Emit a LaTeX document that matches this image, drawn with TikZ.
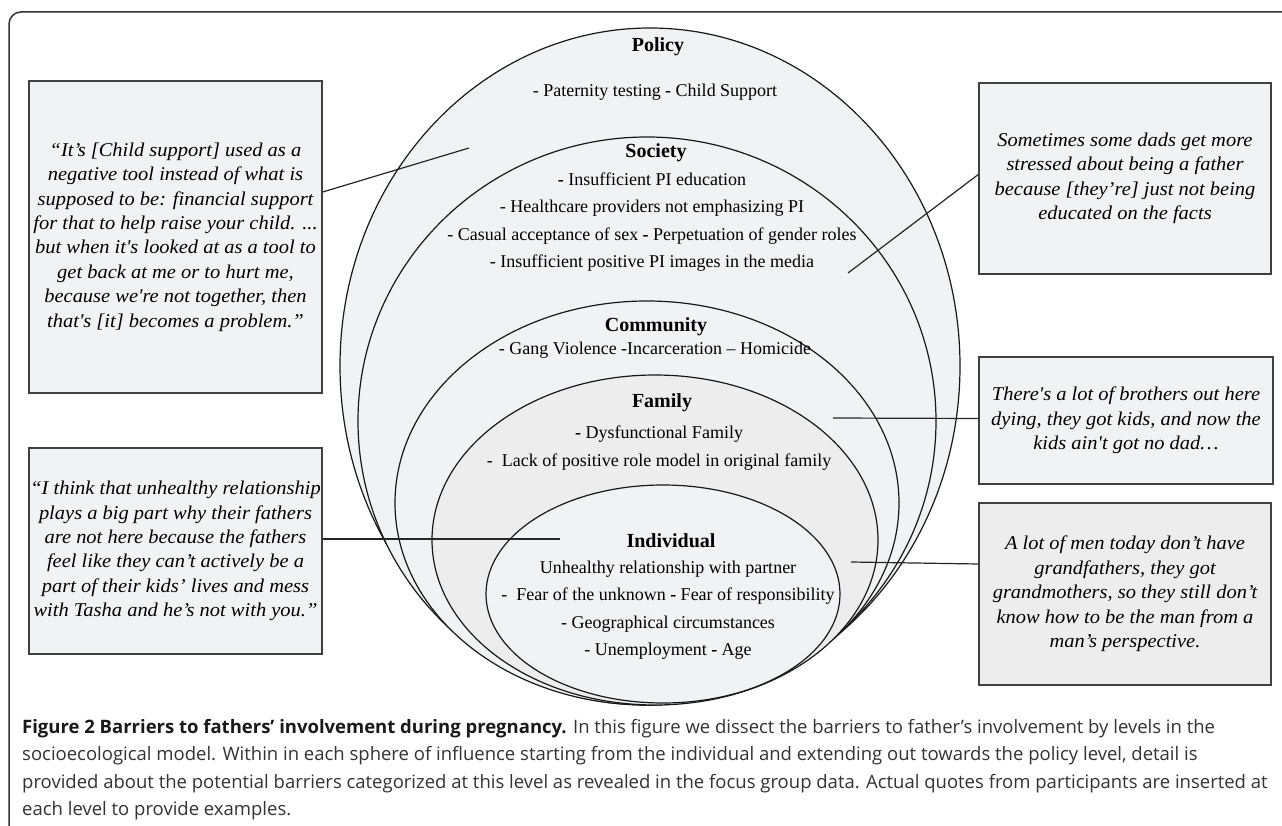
\documentclass[tikz,border=0pt]{standalone}
\usepackage{fontspec}
\setmainfont{Liberation Serif}
\newfontfamily\quotefont[FakeStretch=1.05]{Liberation Serif}
\newfontfamily\capfont{Open Sans}

\definecolor{paleblue}{HTML}{F1F2F4}
\definecolor{palegray}{HTML}{EDEDED}

\tikzset{
  quotebox/.style={draw=black!75, line width=1.4pt, fill=paleblue, inner sep=0pt,
    align=center, font=\quotefont\fontsize{19.5}{24.4}\selectfont\itshape},
  sphere/.style={draw=black!90, line width=1.2pt, fill=paleblue},
  lvtitle/.style={font=\fontsize{20}{24}\selectfont\bfseries},
  lvtext/.style={align=center, inner sep=0pt, font=\fontsize{18}{27.5}\selectfont},
  link/.style={draw=black!85, line width=1.2pt},
}

\begin{document}
\begin{tikzpicture}[x=1pt,y=-1pt]
    \useasboundingbox (0,0) rectangle (1282,826);
    \path[fill=white] (0,0) rectangle (1282,826);

    % Frame: only top and left edges are in view
    \draw[black!80, line width=1.5pt, rounded corners=12pt] (1282,12) -- (9,12) -- (9,826);

    % Spheres of influence, outermost first
    \path[sphere] (650,366) ellipse [x radius=310pt, y radius=338pt];  % Policy
    \path[sphere] (647,421) ellipse [x radius=289pt, y radius=284pt];  % Society
    \path[sphere] (647,503) ellipse [x radius=252pt, y radius=202pt];  % Community
    \path[sphere, fill=palegray] (655,540) ellipse [x radius=223pt, y radius=165pt];  % Family
    \path[sphere] (663,594) ellipse [x radius=177pt, y radius=109pt];  % Individual

    % Level names and barriers
    \node[lvtitle] (poltitle) at (658,47) {Policy};
    \node[lvtext] (politems) at (655,92) {- Paternity testing \textbf{-} Child Support};

    \node[lvtitle] (soctitle) at (656,153) {Society};
    \node[lvtext] (socitems) at (652,222) {\textbf{-} Insufficient PI education\\
      - Healthcare providers not emphasizing PI\\
      - Casual acceptance of sex \textbf{-} Perpetuation of gender roles\\
      - Insufficient positive PI images in the media};

    \node[lvtitle] (comtitle) at (656,327) {Community};
    \node[lvtext] (comitems) at (655,350) {- Gang Violence -Incarceration -- Homicide};

    \node[lvtitle] (famtitle) at (662,403) {Family};
    \node[lvtext] (famitems) at (659,448) {\textbf{-} Dysfunctional Family\\
      -~ Lack of positive role model in original family};

    \node[lvtitle] (indtitle) at (671,541) {Individual};
    \node[lvtext] (inditems) at (668,610) {Unhealthy relationship with partner\\
      -~ Fear of the unknown \textbf{-} Fear of responsibility\\
      - Geographical circumstances\\
      - Unemployment \textbf{-} Age};

    % Quotes from the focus groups
    \node[quotebox, minimum width=293pt, minimum height=312pt] (qpolicy) at (175.5,237)
      {“It’s [Child support] used as a\\ negative tool instead of what is\\
       supposed to be: financial support\\ for that to help raise your child. ...\\
       but when it's looked at as a tool to\\ get back at me or to hurt me,\\
       because we're not together, then\\ that's [it] becomes a problem.”};
    \node[quotebox, minimum width=292pt, minimum height=191pt] (qsociety) at (1125,178.5)
      {Sometimes some dads get more\\ stressed about being a father\\
       because [they’re] just not being\\ educated on the facts};
    \node[quotebox, minimum width=294pt, minimum height=127pt] (qfamily) at (1126,420.5)
      {There's a lot of brothers out here\\ dying, they got kids, and now the\\
       kids ain't got no dad…};
    \node[quotebox, minimum width=293pt, minimum height=206pt] (qindiv) at (175.5,551)
      {“I think that unhealthy relationship\\ plays a big part why their fathers\\
       are not here because the fathers\\ feel like they can’t actively be a\\
       part of their kids’ lives and mess\\ with Tasha and he’s not with you.”};
    \node[quotebox, fill=palegray, minimum width=292pt, minimum height=182pt] (qmen) at (1125,594)
      {A lot of men today don’t have\\ grandfathers, they got\\
       grandmothers, so they still don’t\\ know how to be the man from a\\
       man’s perspective.};

    % Connectors: free ends sit inside the spheres
    \coordinate (polend) at (469,148);
    \coordinate (socend) at (848,273);
    \coordinate (famend) at (833,418);
    \coordinate (indend) at (560,539);
    \coordinate (menend) at (851,562);
    \draw[link] ([yshift=45pt]qpolicy.east) -- (polend);
    \draw[link] ([yshift=4pt]qsociety.west) -- (socend);
    \draw[link] ([yshift=2pt]qfamily.west) -- (famend);
    \draw[link] ([yshift=12pt]qindiv.east) -- (indend);
    \draw[link] ([yshift=30pt]qmen.west) -- (menend);

    % Caption
    \node[anchor=north west, align=left, inner sep=0pt, text=black!80,
      font=\capfont\fontsize{18.5}{27.5}\selectfont] (caption) at (22,719)
      {\textbf{\color{black!90}Figure 2 Barriers to fathers’ involvement during pregnancy.} In this figure we dissect the barriers to father’s involvement by levels in the\\
       socioecological model. Within in each sphere of influence starting from the individual and extending out towards the policy level, detail is\\
       provided about the potential barriers categorized at this level as revealed in the focus group data. Actual quotes from participants are inserted at\\
       each level to provide examples.};
\end{tikzpicture}
\end{document}
